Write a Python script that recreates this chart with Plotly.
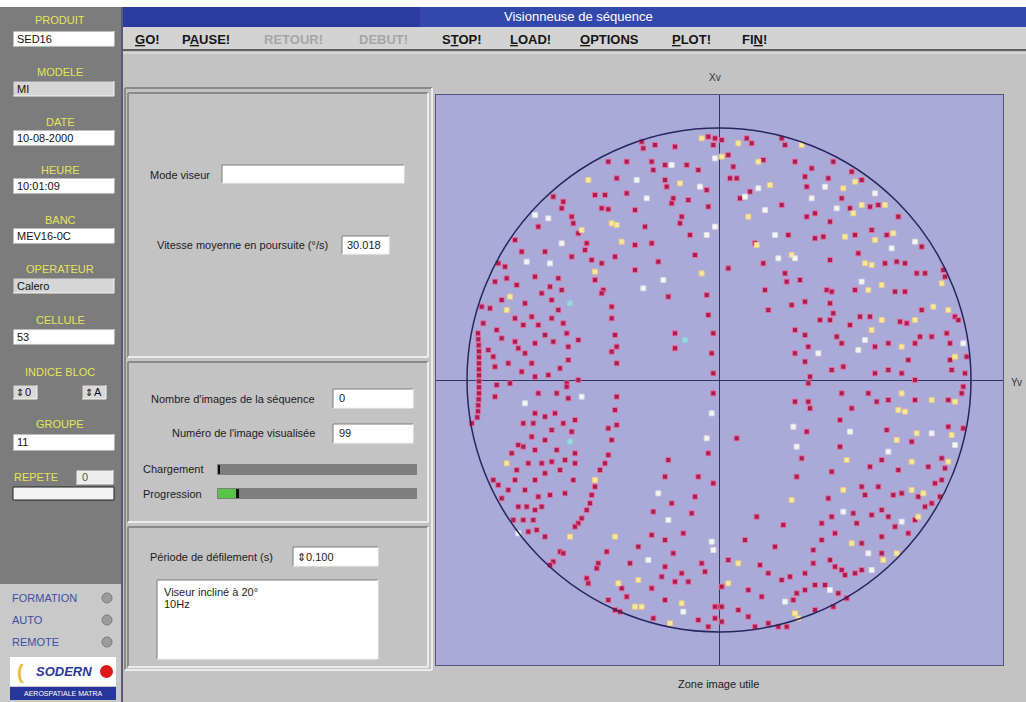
import plotly.graph_objects as go

W, H = 1026, 702

# ---------------- DATA ----------------
# star positions on the viewer field (sensor units, field circle radius = 756)
CIRCLE_R = 756

red_pts = [
    (-232,715),(-227,695),(-192,705),(-132,700),(-32,730),(-12,725),(-17,705),
    (-332,655),(-277,655),(-202,655),(-197,630),(-162,645),(-97,645),(-62,630),
    (-307,605),(-162,600),(-157,580),(-37,570),
    (-497,550),(-467,535),(-472,515),(-372,555),(-342,555),(-277,560),(-137,545),(-142,530),(-92,540),(-32,520),
    (-442,490),(-437,470),(-352,515),(-332,512),(-252,510),(-112,490),(-117,470),
    (-542,460),(-422,440),(-222,460),(-87,435),
    (-612,420),(-592,385),(-397,410),(-402,390),(-252,405),(-202,410),(-72,375),
    (-662,350),(-642,340),(-522,385),(-442,370),(-382,360),(-352,350),(-312,370),(-252,330),(-182,355),
    (-672,295),(-637,305),(-607,285),(-552,310),(-507,280),(-482,305),(-372,300),(-347,270),(-152,250),
    (-712,220),(-687,215),(-652,240),(-582,230),(-532,260),(-502,240),(-472,270),(-352,260),(-322,220),
    (-707,170),(-667,150),(-612,185),(-587,165),(-562,190),(-542,165),(-502,185),(-482,210),(-467,170),
    (-322,185),(-132,140),(-132,95),(-37,255),(-32,195),
    (-723,140),(-722,122),(-721,104),(-720,86),(-720,68),(-720,50),(-720,32),(-720,14),(-720,-4),
    (-720,-22),(-720,-40),(-721,-58),(-722,-76),(-723,-94),(-725,-112),(-742,-130),
    (-692,90),(-677,70),(-652,125),(-612,115),(-602,95),(-582,80),(-552,110),(-522,135),(-497,115),
    (-457,140),(-452,100),(-422,120),(-312,135),(-307,100),(-307,50),(-322,85),(-17,140),(-22,80),(-17,20),
    (-672,40),(-667,-15),(-632,50),(-627,-10),(-592,25),(-562,50),(-552,10),(-512,15),(-477,35),
    (-452,60),(-457,-10),(-422,0),
    (-672,-50),(-542,-40),(-487,-40),(-457,-20),(-452,-55),(-307,-50),(-312,-90),(-307,-135),
    (-332,-145),(-322,-180),(-332,-225),(-342,-250),(-357,-270),
    (-552,-100),(-587,-130),(-557,-130),(-522,-110),(-492,-100),(-467,-130),(-432,-120),(-442,-155),
    (-502,-150),(-522,-180),(-562,-170),(-602,-195),(-622,-220),(-587,-200),(-552,-210),(-487,-210),
    (-462,-240),(-432,-220),
    (-607,-270),(-572,-250),(-532,-250),(-502,-245),(-477,-270),(-432,-250),(-522,-280),(-552,-300),
    (-582,-330),(-612,-300),(-677,-300),(-662,-315),(-632,-330),(-652,-355),(-542,-350),(-507,-345),
    (-462,-340),(-437,-300),
    (-602,-380),(-577,-380),(-552,-390),(-532,-380),(-617,-420),(-587,-420),(-557,-420),(-547,-450),
    (-572,-455),(-522,-470),
    (-372,-320),(-382,-345),(-387,-370),(-397,-390),(-412,-415),(-422,-430),(-432,-440),(-477,-515),
    (-467,-520),(-497,-545),(-507,-555),
    (-337,-515),(-362,-550),(-367,-565),(-397,-595),(-392,-610),(-292,-625),(-277,-650),(-332,-660),
    (-312,-690),(-297,-695),(-267,-550),(-242,-500),(-202,-625),(-172,-590),(-152,-240),(-162,-290),
    (-197,-395),(-142,-370),(-202,-465),(-137,-520),(-107,-460),(-82,-400),(-62,-290),(-72,-350),
    (-32,-220),(-17,-40),(-17,-310),(-52,-550),(-42,-575),(-92,-605),(-132,-605),(-162,-560),
    (-162,-660),(-62,-720),(-32,-740),(-2,-680),(-197,-715),(-112,-580),(-162,-480),
    (8,720),(83,725),(98,710),(188,725),(198,705),
    (28,675),(43,640),(133,660),(228,655),(278,635),(343,655),(398,625),(428,600),
    (33,605),(53,605),(63,545),(258,610),(263,580),(328,605),
    (108,410),(188,525),(208,435),(263,490),(288,500),(333,475),(368,545),(393,515),(453,520),
    (478,525),(538,490),
    (28,335),(133,350),(243,300),(203,295),(288,425),(313,430),(333,360),(408,435),(418,380),
    (458,450),(503,435),(533,355),(498,350),(558,350),(608,400),
    (138,270),(148,210),(218,225),(258,235),(323,270),(333,230),(338,265),(408,270),(528,265),
    (558,265),(593,320),(618,320),(673,330),(678,310),
    (228,150),(258,135),(268,100),(303,180),(333,180),(343,200),(353,130),(393,165),(423,190),
    (453,190),(543,175),(563,170),(608,210),(708,190),(718,180),
    (228,80),(258,55),(273,10),(338,30),(368,110),(373,40),(468,100),(508,110),(568,60),(588,110),
    (603,130),(638,130),(683,140),(693,110),(693,60),(698,30),(743,70),
    (468,20),(508,30),(548,20),(588,0),(268,-10),(93,565),(198,320),
    (228,-65),(268,-65),(273,-85),(263,-155),(363,-120),(368,-40),(398,-85),(448,-40),(473,-65),
    (508,-60),(588,-60),(688,-60),(728,-40),
    (53,-175),(503,-150),(578,-185),(688,-140),(733,-145),
    (248,-235),(363,-200),(453,-260),(488,-240),(538,-270),(628,-260),(668,-235),(678,-265),
    (233,-290),(338,-275),(328,-355),(428,-320),(438,-345),(478,-320),(523,-345),(548,-340),
    (598,-350),(648,-310),(663,-350),(668,-300),
    (193,-435),(113,-410),(308,-430),(338,-410),(403,-400),(413,-430),(458,-405),(488,-390),
    (508,-410),(528,-440),(588,-420),(618,-380),(638,-370),(348,-460),
    (78,-480),(168,-500),(283,-510),(308,-480),(428,-490),(488,-470),(488,-520),(568,-460),
    (28,-540),(123,-555),(148,-580),(188,-600),(213,-590),(258,-580),(283,-550),(333,-540),
    (348,-560),(368,-570),(378,-585),(408,-580),(428,-570),
    (8,-620),(88,-630),(128,-650),(223,-660),(233,-640),(258,-630),(288,-615),(318,-615),
    (358,-640),(383,-655),
    (-12,-680),(8,-680),(58,-690),(88,-710),(148,-730),(288,-690),(343,-680),(108,-740),
    (178,-740),(203,-740),(-12,-715),(8,-725),(733,-20),(738,20),
]

yellow_pts = [
    (-52,725),(-392,600),(-117,590),(-412,450),(-322,470),(-307,465),(-292,415),(-52,320),
    (-372,325),(-627,250),(-637,210),
    (-637,-250),(-372,-300),(-447,-470),(-312,-470),(-302,-610),(-242,-600),(-252,-680),
    (-232,-680),(-112,-670),(-147,-730),
    (248,705),(58,710),(8,670),(118,655),(153,585),(373,575),(408,595),(88,490),(403,500),
    (428,525),(498,525),(378,430),(468,420),(523,440),(458,345),(438,350),(448,270),(488,285),
    (668,290),(488,180),(588,180),(643,220),(688,210),(458,150),(548,100),(708,70),(113,405),
    (218,375),
    (548,-40),(538,-90),(558,-95),(638,-60),(708,-65),(533,-180),(593,-160),(698,-165),
    (383,-240),(578,-245),(688,-245),(373,-330),(578,-330),(613,-340),(218,-360),(598,-410),
    (398,-490),(533,-520),(58,-550),(493,-540),(28,-610),(228,-700),(238,-715),
]

white_pts = [
    (-142,645),(-12,665),(-247,600),(-57,580),(-217,545),(-552,495),(-512,485),(-37,435),
    (-12,460),(-472,410),(-577,355),(-507,350),(-227,275),(-167,300),
    (-582,-70),(-412,-50),(-602,-460),(-212,-540),(-182,-340),(-152,-420),(-37,-175),
    (-22,-100),(-22,-485),(-17,-510),(-107,-695),
    (78,550),(118,575),(318,580),(468,560),(138,510),(168,435),(278,545),(353,515),(178,365),
    (228,365),(518,395),(588,415),(428,295),(298,80),(418,90),(438,120),(733,110),
    (223,-140),(393,-155),(638,-160),(708,-195),(233,-200),(508,-215),(373,-395),(548,-425),
    (448,-520),(458,-570),(198,-665),(333,-630),
]

cyan_pts = [(-447,230),(-102,120),(-447,-185)]

menu_items = ["<u>G</u>O!", "P<u>A</u>USE!", "RETOUR!", "DEBUT!", "S<u>T</u>OP!",
              "<u>L</u>OAD!", "<u>O</u>PTIONS", "<u>P</u>LOT!", "FI<u>N</u>!"]
menu_enabled = [True, True, False, False, True, True, True, True, True]

side_labels = ["PRODUIT", "MODELE", "DATE", "HEURE", "BANC", "OPERATEUR", "CELLULE"]
side_values = ["SED16", "MI", "10-08-2000", "10:01:09", "MEV16-0C", "Calero", "53"]
side_editable = [True, False, True, True, True, False, True]

indice_bloc = ["0", "A"]
groupe = "11"
repete = "0"
status_labels = ["FORMATION", "AUTO", "REMOTE"]

mode_viseur = ""
vitesse_moyenne = "30.018"
nb_images = "0"
num_image = "99"
progression_frac = 0.09
periode = "0.100"
commentaire = ["Viseur incliné à 20°", "10Hz"]

# ---------------- HELPERS ----------------
shapes = []
annotations = []
FONT = "Liberation Sans"


def rect(x0, y0, x1, y1, fill, line=None, lw=1, layer="above"):
    shapes.append(dict(type="rect", xref="paper", yref="paper",
                       x0=x0 / W, x1=x1 / W, y0=1 - y1 / H, y1=1 - y0 / H,
                       fillcolor=fill, layer=layer,
                       line=dict(color=line if line else "rgba(0,0,0,0)", width=lw if line else 0)))


def hline(x0, x1, y, color, w=1):
    shapes.append(dict(type="line", xref="paper", yref="paper", x0=x0 / W, x1=x1 / W,
                       y0=1 - y / H, y1=1 - y / H, line=dict(color=color, width=w)))


def vline(x, y0, y1, color, w=1):
    shapes.append(dict(type="line", xref="paper", yref="paper", x0=x / W, x1=x / W,
                       y0=1 - y0 / H, y1=1 - y1 / H, line=dict(color=color, width=w)))


def text(x, y, s, size=11, color="#1c1c1c", anchor="left", family=FONT):
    annotations.append(dict(xref="paper", yref="paper", x=x / W, y=1 - y / H, text=s,
                            showarrow=False, xanchor=anchor, yanchor="middle",
                            font=dict(size=size, color=color, family=family)))


def sunken(x0, y0, x1, y1, fill="#ffffff"):
    rect(x0, y0, x1, y1, fill)
    hline(x0, x1, y0, "#7a7a7a")
    vline(x0, y0, y1, "#7a7a7a")
    hline(x0, x1, y1, "#f4f4f4")
    vline(x1, y0, y1, "#f4f4f4")


def panel(x0, y0, x1, y1):
    hline(x0, x1, y0, "#8a8a8a", 2)
    vline(x0, y0, y1, "#8a8a8a", 2)
    hline(x0, x1, y1, "#ececec", 2)
    vline(x1, y0, y1, "#ececec", 2)


# ---------------- WINDOW CHROME ----------------
rect(0, 0, W, 7, "#ffffff")
# title bar
rect(122, 7, W, 27, "#3348ad")
rect(122, 7, 420, 27, "#2c3c9e")
text(578, 17, "Visionneuse de séquence", size=13, color="#ffffff", anchor="center")
# menu bar
rect(122, 27, W, 50, "#d3d3d3")
hline(122, W, 50, "#5f5f5f", 2)
hline(122, W, 53, "#e6e6e6", 1)
menu_x = [133, 180, 262, 357, 440, 508, 578, 670, 740]
for mx, lab, en in zip(menu_x, menu_items, menu_enabled):
    text(mx, 40, "<b>" + lab + "</b>", size=13,
         color="#161616" if en else "#a6a6a6", anchor="left")

# left sidebar
rect(0, 7, 121, 584, "#7c7c7c")
rect(0, 584, 121, H, "#c9c9c9")
vline(122, 7, H, "#5a5a78", 2)
label_y = [20, 72, 122, 170, 220, 269, 320]
box_y = [31, 81, 130, 178, 228, 278, 329]
for lab, val, ed, ly, by in zip(side_labels, side_values, side_editable, label_y, box_y):
    text(60, ly, lab, size=11, color="#e4e45a", anchor="center")
    sunken(13, by, 114, by + 15, "#ffffff" if ed else "#d6d6d6")
    text(15, by + 8, val, size=11, color="#111111")

text(60, 372, "INDICE BLOC", size=11, color="#e4e45a", anchor="center")
for bx, val in zip([13, 82], indice_bloc):
    sunken(bx, 385, bx + 24, 399, "#d9d9d9")
    text(bx + 1, 392, "⇕", size=10, color="#111111", family="DejaVu Sans")
    text(bx + 10, 392, val, size=11, color="#111111")

text(60, 424, "GROUPE", size=11, color="#e4e45a", anchor="center")
sunken(13, 434, 114, 450, "#ffffff")
text(15, 442, groupe, size=11, color="#111111")

text(12, 477, "REPETE", size=11, color="#e4e45a", anchor="left")
sunken(76, 470, 113, 484, "#ececec")
text(80, 477, repete, size=11, color="#555555")
rect(13, 487, 114, 500, "#f4f4f4", "#202020", 1)

for i, lab in enumerate(status_labels):
    yy = 598 + 22 * i
    text(10, yy, lab, size=11, color="#3f4fa4", anchor="left")
    shapes.append(dict(type="circle", xref="paper", yref="paper",
                       x0=102 / W, x1=112 / W, y0=1 - (yy + 5) / H, y1=1 - (yy - 5) / H,
                       fillcolor="#9c9c9c", line=dict(color="#7c7c7c", width=1)))

# logo
rect(10, 657, 116, 686, "#ffffff")
text(64, 671, "<b><i>SODERN</i></b>", size=13, color="#2737a0", anchor="center")
text(20, 672, "<b>(</b>", size=20, color="#e8b830", anchor="center")
shapes.append(dict(type="circle", xref="paper", yref="paper",
                   x0=100 / W, x1=113 / W, y0=1 - 678 / H, y1=1 - 665 / H,
                   fillcolor="#e01818", line=dict(color="#e01818", width=0)))
rect(10, 687, 116, 700, "#26369a")
text(63, 693.5, "AEROSPATIALE MATRA", size=7, color="#ffffff", anchor="center")

# ---------------- LEFT PANELS ----------------
panel(125, 88, 432, 670)
panel(128, 93, 428, 357)
text(148, 175, "Mode viseur", size=11)
sunken(222, 165, 404, 183, "#ffffff")
text(226, 174, mode_viseur, size=11)
text(155, 245, "Vitesse moyenne en poursuite (°/s)", size=11)
sunken(342, 236, 389, 254, "#ffffff")
text(345, 245, vitesse_moyenne, size=11)

panel(128, 362, 428, 522)
text(317, 399, "Nombre d'images de la séquence", size=11, anchor="right")
sunken(333, 389, 413, 408, "#ffffff")
text(337, 398, nb_images, size=11)
text(317, 433, "Numéro de l'image visualisée", size=11, anchor="right")
sunken(333, 424, 413, 443, "#ffffff")
text(337, 433, num_image, size=11)
text(141, 469, "Chargement", size=11)
rect(217, 464, 417, 475, "#7f7f7f")
rect(218, 465, 220, 474, "#101010")
text(141, 494, "Progression", size=11)
rect(217, 488, 417, 499, "#7f7f7f")
gx = 218 + progression_frac * 200
rect(218, 489, gx, 498, "#58c548")
rect(gx, 489, gx + 3, 498, "#101010")

panel(128, 527, 428, 667)
text(148, 557, "Période de défilement (s)", size=11)
sunken(293, 547, 378, 566, "#ffffff")
text(295, 557, "⇕", size=11, color="#111111", family="DejaVu Sans")
text(304, 557, periode, size=11)
sunken(157, 580, 378, 659, "#ffffff")
for i, line in enumerate(commentaire):
    text(162, 592 + 12 * i, line, size=11)

# ---------------- PLOT AREA LABELS ----------------
text(715, 77, "Xv", size=10, color="#333333", anchor="center")
text(1016, 382, "Yv", size=10, color="#333333", anchor="center")
text(718, 684, "Zone image utile", size=11, color="#1c1c1c", anchor="center")

# field circle
shapes.append(dict(type="circle", xref="x", yref="y", x0=-CIRCLE_R, x1=CIRCLE_R,
                   y0=-CIRCLE_R, y1=CIRCLE_R, line=dict(color="#26265e", width=1.5),
                   layer="above"))

# ---------------- TRACES ----------------
fig = go.Figure()


def add_pts(pts, color, edge, size=5):
    fig.add_trace(go.Scatter(
        x=[p[0] for p in pts], y=[p[1] for p in pts], mode="markers",
        marker=dict(symbol="square", size=size, color=color,
                    line=dict(color=edge, width=1)),
        hoverinfo="skip", showlegend=False))


add_pts(red_pts, "#a81e55", "rgba(236,110,150,0.85)")
add_pts(yellow_pts, "#f4ec96", "rgba(240,200,140,0.9)")
add_pts(white_pts, "#f6f6ee", "rgba(220,220,236,0.9)")
add_pts(cyan_pts, "#9ad8dc", "#8ccfd6")

x_dom = [436 / W, 1003 / W]
y_dom = [1 - 665 / H, 1 - 95 / H]

fig.update_layout(
    width=W, height=H, margin=dict(l=0, r=0, t=0, b=0),
    paper_bgcolor="#c3c3c3", plot_bgcolor="#aaaad8",
    xaxis=dict(domain=x_dom, range=[-849, 852], showgrid=False, showticklabels=False,
               ticks="", zeroline=True, zerolinecolor="#34345e", zerolinewidth=1,
               showline=True, linecolor="#55557a", linewidth=1, mirror=True, fixedrange=True),
    yaxis=dict(domain=y_dom, range=[-855, 855], showgrid=False, showticklabels=False,
               ticks="", zeroline=True, zerolinecolor="#34345e", zerolinewidth=1,
               showline=True, linecolor="#55557a", linewidth=1, mirror=True, fixedrange=True),
    shapes=shapes, annotations=annotations,
)

fig.write_html("out.html", config={"displayModeBar": False},
               post_script="document.body.style.margin='0';document.body.style.overflow='hidden';")
